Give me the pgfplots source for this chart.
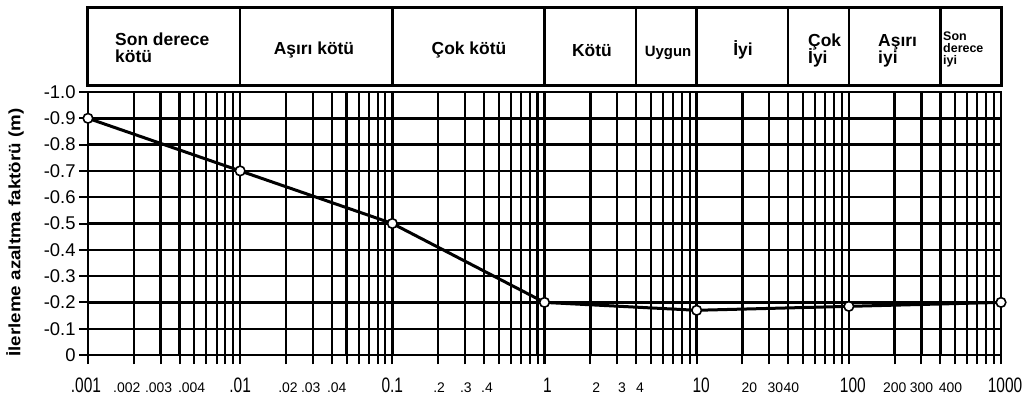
\documentclass[border=0pt]{standalone}
\usepackage{fontspec}
\setmainfont{Liberation Sans}
\newfontfamily\condfont[FakeStretch=0.74]{Liberation Sans}
\newfontfamily\ylabfont[FakeStretch=1.14]{Liberation Sans}
\usepackage{pgfplots}
\pgfplotsset{compat=1.18}
\usetikzlibrary{calc}
% shift a tick label sideways by half of #1
\newcommand{\sh}[2]{\makebox[0pt]{\hspace*{#1}#2}}
\begin{document}
\begin{tikzpicture}
% ---------- main chart ----------
\begin{axis}[
  at={(544.5bp,176.5bp)}, anchor=center,
  scale only axis, width=913bp, height=263bp,
  xmode=log, xmin=0.001, xmax=1000,
  ymin=-1, ymax=0, y dir=reverse,
  clip=false,
  axis line style={line width=2.8bp, black},
  xtick={0.001,0.01,0.1,1,10,100,1000},
  xticklabels={\sh{-4bp}{.001},.01,0.1,\sh{6bp}{1},\sh{9bp}{10},\sh{8bp}{100},\sh{8bp}{1000}},
  xticklabel style={font=\condfont\fontsize{21}{21}\selectfont, anchor=base, yshift=-28bp},
  minor xtick={0.002,0.003,0.004,0.005,0.006,0.007,0.008,0.009,
               0.02,0.03,0.04,0.05,0.06,0.07,0.08,0.09,
               0.2,0.3,0.4,0.5,0.6,0.7,0.8,0.9,
               2,3,4,5,6,7,8,9,
               20,30,40,50,60,70,80,90,
               200,300,400,500,600,700,800,900},
  extra x ticks={0.002,0.003,0.004,0.02,0.03,0.04,0.2,0.3,0.4,2,3,4,20,30,40,200,300,400},
  extra x tick labels={\sh{-14bp}{.002},\sh{-4bp}{.003},\sh{24bp}{.004},
                       \sh{4bp}{.02},\sh{-4bp}{.03},\sh{10bp}{.04},
                       \sh{2bp}{.2},\sh{2bp}{.3},\sh{6bp}{.4},
                       \sh{12bp}{2},\sh{10bp}{3},\sh{8bp}{4},
                       \sh{14bp}{20},\sh{12bp}{30},\sh{6bp}{40},
                       200,300,\sh{20bp}{400}},
  extra x tick style={xticklabel style={font=\fontsize{14}{14}\selectfont}},
  ytick={-1,-0.9,-0.8,-0.7,-0.6,-0.5,-0.4,-0.3,-0.2,-0.1,0},
  yticklabels={-1.0,-0.9,-0.8,-0.7,-0.6,-0.5,-0.4,-0.3,-0.2,-0.1,0},
  yticklabel style={font=\fontsize{18.5}{19}\selectfont},
  xmajorgrids, xminorgrids, ymajorgrids,
  major grid style={black, line width=2.4bp},
  minor grid style={black, line width=2.1bp},
  tick style={black, line width=2bp},
  major tick length=9bp, minor tick length=9bp,
  tick align=outside,
  xtick pos=left, ytick pos=left,
]
\addplot[black, line width=3bp, mark=*, mark size=4.8bp,
  mark options={fill=white, draw=black, line width=1.6bp, solid}]
  coordinates {(0.001,-0.9) (0.01,-0.7) (0.1,-0.5) (1,-0.2) (10,-0.17) (100,-0.185) (1000,-0.2)};
\node[rotate=90, anchor=center, inner sep=0, font=\ylabfont\bfseries\fontsize{16.5}{17}\selectfont]
  at ($(rel axis cs:0,0.5)+(-73bp,-9bp)$) {İlerleme azaltma faktörü (m)};
\end{axis}
% ---------- category band ----------
\begin{axis}[
  at={(544.5bp,353bp)}, anchor=center,
  scale only axis, width=913bp, height=78bp,
  xmode=log, xmin=0.001, xmax=1000, ymin=0, ymax=1,
  xtick={0.01,0.1,1,4,10,40,100,400}, xticklabels={},
  ytick=\empty,
  xmajorgrids, major grid style={black, line width=2.4bp},
  major tick length=0pt,
  axis line style={line width=3bp, black},
  clip=false,
]
\begin{scope}[every node/.style={inner sep=0, font=\bfseries\fontsize{17.5}{18}\selectfont}]
\node[anchor=base west] at (rel axis cs:0.0296,0.513) {Son derece};
\node[anchor=base west] at (rel axis cs:0.0296,0.300) {kötü};
\node[anchor=base] at (rel axis cs:0.2475,0.404) {Aşırı kötü};
\node[anchor=base] at (rel axis cs:0.4173,0.404) {Çok kötü};
\node[anchor=base] at (rel axis cs:0.552,0.378) {Kötü};
\node[anchor=base, font=\bfseries\fontsize{15}{15}\selectfont] at (rel axis cs:0.6353,0.372) {Uygun};
\node[anchor=base] at (rel axis cs:0.7174,0.397) {İyi};
\node[anchor=base west] at (rel axis cs:0.7886,0.50) {Çok};
\node[anchor=base west] at (rel axis cs:0.7886,0.29) {İyi};
\node[anchor=base west] at (rel axis cs:0.8653,0.50) {Aşırı};
\node[anchor=base west] at (rel axis cs:0.8653,0.29) {iyi};
\node[anchor=base west, font=\bfseries\fontsize{12.5}{13}\selectfont] at (rel axis cs:0.9365,0.585) {Son};
\node[anchor=base west, font=\bfseries\fontsize{12.5}{13}\selectfont] at (rel axis cs:0.9365,0.430) {derece};
\node[anchor=base west, font=\bfseries\fontsize{12.5}{13}\selectfont] at (rel axis cs:0.9365,0.275) {iyi};
\end{scope}
\end{axis}
\pgfresetboundingbox
\path[use as bounding box] (0,0) rectangle (1032bp,400bp);
\end{tikzpicture}
\end{document}
